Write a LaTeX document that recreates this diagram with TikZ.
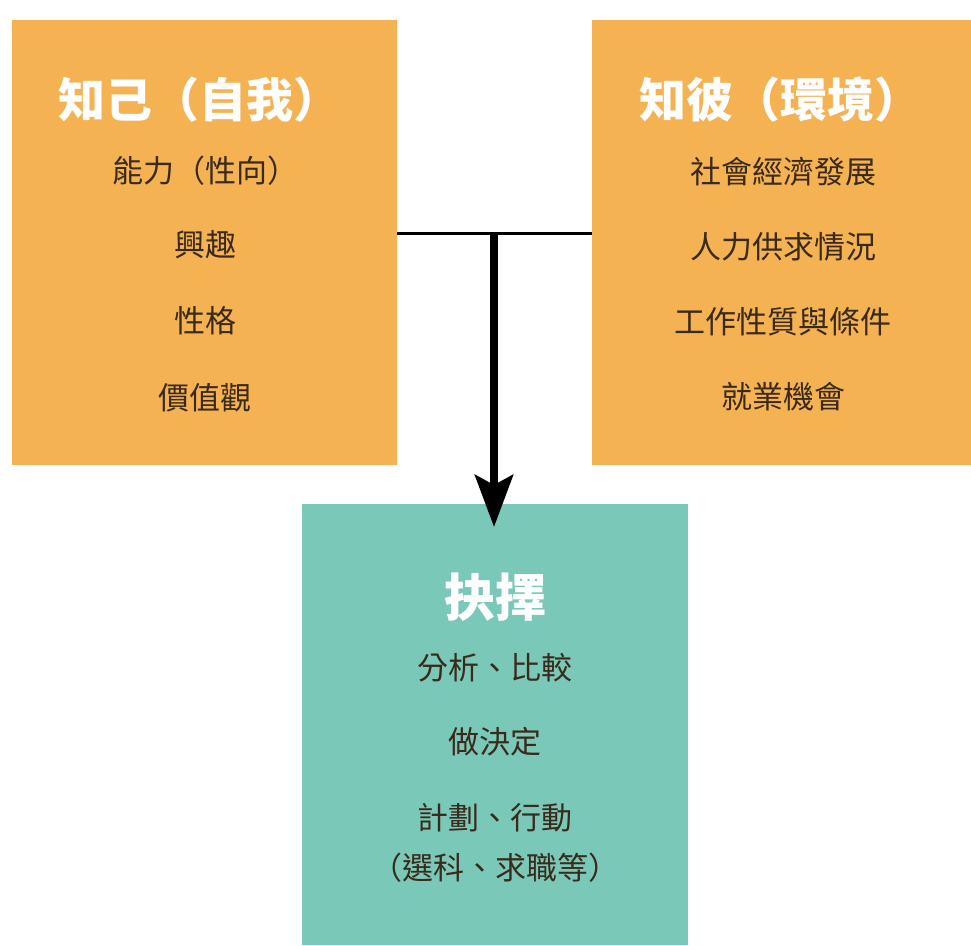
\documentclass[tikz,border=0pt]{standalone}
\usepackage{fontspec}
\newfontfamily\cjk{Noto Sans CJK TC}
\usetikzlibrary{arrows.meta,positioning,calc}
\definecolor{selfcol}{RGB}{245,178,82}
\definecolor{choicecol}{RGB}{122,200,183}
\definecolor{itemcol}{RGB}{58,42,28}
\tikzset{
    box/.style={rectangle, inner sep=0pt, anchor=north west},
    title/.style={font=\cjk\bfseries\fontsize{47}{56}\selectfont, text=white},
    item/.style={font=\cjk\fontsize{31}{50}\selectfont, text=itemcol, align=center},
  }
\begin{document}
\begin{tikzpicture}[x=1pt,y=-1pt]
    \useasboundingbox (0,0) rectangle (971,945);

    \node[box, fill=selfcol, minimum width=385pt, minimum height=445pt] (self) at (12,20) {};
    \node[box, fill=selfcol, minimum width=379pt, minimum height=445pt] (env) at (592,20) {};
    \node[box, fill=choicecol, minimum width=386pt, minimum height=441pt] (choice) at (302,504) {};

    %% know yourself
    \node[title] (selft) at (199,100) {知己（自我）};
    \node[item] (s1) at (205,171) {能力（性向）};
    \node[item] (s2) at (205,245) {興趣};
    \node[item] (s3) at (205,321) {性格};
    \node[item] (s4) at (205,398) {價值觀};

    %% know the environment
    \node[title] (envt) at (780,100) {知彼（環境）};
    \node[item] (e1) at (783,172) {社會經濟發展};
    \node[item] (e2) at (783,247) {人力供求情況};
    \node[item] (e3) at (783,322) {工作性質與條件};
    \node[item] (e4) at (783,397) {就業機會};

    %% choice
    \node[title, font=\cjk\bfseries\fontsize{51}{56}\selectfont] (choicet) at (495,597) {抉擇};
    \node[item] (c1) at (495,668) {分析、比較};
    \node[item] (c2) at (495,742) {做決定};
    \node[item] (c3) at (495,843) {計劃、行動\\（選科、求職等）};

    \coordinate (jn) at (494,233);
    \draw[line width=3pt] (self.east |- jn) -- (env.west |- jn);
    \draw[line width=8pt, -{Stealth[length=52pt,width=38pt,inset=10pt]}] (jn) -- (494,527);
  \end{tikzpicture}
\end{document}
